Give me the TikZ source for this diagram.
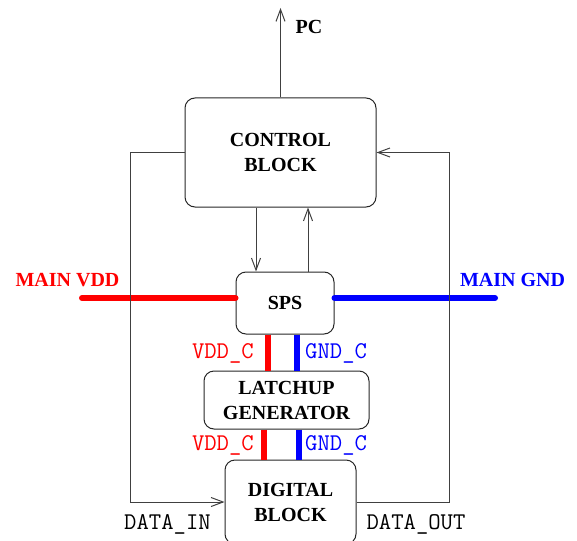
\documentclass[tikz,border=0pt]{standalone}
\usepackage{fontspec}
\setmainfont{Liberation Serif}
\usetikzlibrary{arrows.meta}

\tikzset{
  bloque/.style={draw=black!85, line width=1pt, rounded corners=10pt,
    inner sep=0pt, align=center, font=\fontsize{20}{25}\selectfont\bfseries},
  senal/.style={draw=black!75, line width=1pt},
  flecha/.style={senal, -{Straight Barb[length=12pt,width=9pt]}},
  vdd/.style={red, line width=6pt},
  gnd/.style={blue, line width=6pt},
  etiq/.style={font=\fontsize{20}{24}\selectfont\bfseries},
  pin/.style={font=\fontsize{24}{28}\selectfont\ttfamily, inner sep=0pt},
}

\begin{document}
\begin{tikzpicture}[x=1pt, y=-1pt]
            \useasboundingbox (0,0) rectangle (577,540);
            \clip (0,0) rectangle (577,540);
            % Bloques
            \node[bloque, minimum width=191pt, minimum height=109pt]
                (ctrl) at (280.5,152.5) {CONTROL\\BLOCK};
            \node[bloque, minimum width=98pt, minimum height=62pt]
                (sps) at (285,303) {SPS};
            \node[bloque, minimum width=165pt, minimum height=58pt]
                (latch) at (286.5,400) {LATCHUP\\GENERATOR};
            \node[bloque, minimum width=131pt, minimum height=84pt]
                (digital) at (290.5,502) {DIGITAL\\BLOCK};
            % Alimentacion principal
            \coordinate (vddin) at (82,298);
            \coordinate (gndin) at (495,298);
            \draw[vdd, line cap=round] (vddin) -- (sps.west |- vddin);
            \draw[gnd, line cap=round] (gndin) -- (sps.east |- gndin);
            \node[etiq, red]  (mainvdd) at (67.5,280) {MAIN VDD};
            \node[etiq, blue] (maingnd) at (512.5,280) {MAIN GND};
            % Alimentacion conmutada
            \draw[vdd] ([xshift=-17pt]sps.south) -- ([xshift=-17pt]sps.south |- latch.north);
            \draw[gnd] ([xshift=12pt]sps.south) -- ([xshift=12pt]sps.south |- latch.north);
            \draw[vdd] ([xshift=-22.5pt]latch.south) -- ([xshift=-22.5pt]latch.south |- digital.north);
            \draw[gnd] ([xshift=12.5pt]latch.south) -- ([xshift=12.5pt]latch.south |- digital.north);
            \node[pin, red, anchor=east]   (vddc1) at (254,353) {VDD\_C};
            \node[pin, blue, anchor=west]  (gndc1) at (305,353) {GND\_C};
            \node[pin, red, anchor=east]   (vddc2) at (254,445) {VDD\_C};
            \node[pin, blue, anchor=west]  (gndc2) at (305,445) {GND\_C};
            % Control
            \coordinate (pc) at (279,8);
            \draw[flecha] (ctrl.north) -- (ctrl.north |- pc);
            \node[etiq, anchor=west] (pclab) at (292,27) {PC};
            \draw[flecha] ([xshift=-24.5pt]ctrl.south) -- ([xshift=-24.5pt]ctrl.south |- sps.north);
            \draw[flecha] ([xshift=27.5pt]ctrl.south |- sps.north) -- ([xshift=27.5pt]ctrl.south);
            % Datos
            \coordinate (izq) at (130,0);
            \coordinate (der) at (449,0);
            \draw[flecha] (ctrl.west) -- (ctrl.west -| izq) |- (digital.west);
            \draw[flecha] (digital.east) -- (digital.east -| der) |- (ctrl.east);
            \node[pin] (datain)  at (167.5,524) {DATA\_IN};
            \node[pin] (dataout) at (416,524) {DATA\_OUT};
        \end{tikzpicture}
\end{document}
